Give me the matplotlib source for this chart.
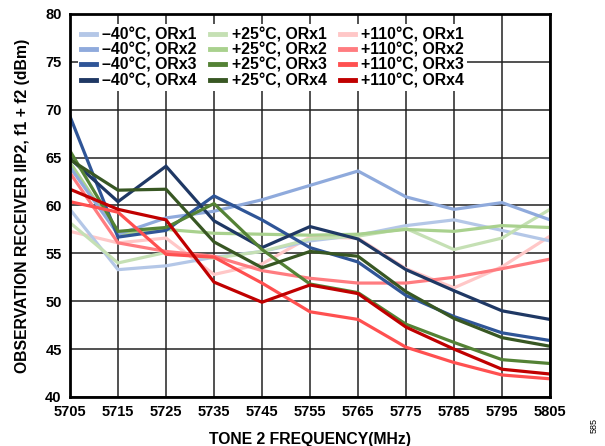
import numpy as np
import matplotlib
matplotlib.use('Agg')
import matplotlib.pyplot as plt

plt.rcParams['font.family'] = ['Liberation Sans', 'DejaVu Sans']
plt.rcParams['font.weight'] = 'bold'

freq = [5705, 5715, 5725, 5735, 5745, 5755, 5765, 5775, 5785, 5795, 5805]

# -40 C
m40_orx1 = [59.6, 53.3, 53.7, 54.6, 55.2, 56.3, 56.9, 57.9, 58.5, 57.4, 56.3]
m40_orx2 = [64.0, 57.0, 58.7, 59.4, 60.6, 62.1, 63.6, 60.9, 59.6, 60.3, 58.5]
m40_orx3 = [69.3, 56.7, 57.4, 61.0, 58.5, 55.6, 54.1, 50.6, 48.4, 46.7, 45.9]
m40_orx4 = [64.9, 60.4, 64.1, 58.4, 55.6, 57.8, 56.5, 53.3, 51.1, 49.0, 48.1]
# +25 C
p25_orx1 = [58.2, 54.0, 55.1, 54.5, 55.2, 56.5, 56.8, 57.6, 55.4, 56.6, 59.6]
p25_orx2 = [64.5, 57.0, 57.5, 57.1, 57.0, 56.9, 57.0, 57.5, 57.3, 57.9, 57.7]
p25_orx3 = [65.7, 57.3, 57.7, 60.2, 55.4, 51.8, 50.9, 47.6, 45.7, 43.9, 43.5]
p25_orx4 = [64.8, 61.6, 61.7, 56.2, 53.5, 55.2, 54.7, 51.0, 48.2, 46.2, 45.3]
# +110 C
p110_orx1 = [57.3, 56.1, 56.6, 52.8, 53.9, 56.7, 56.6, 53.4, 51.4, 53.6, 56.8]
p110_orx2 = [63.4, 56.1, 55.2, 54.7, 53.2, 52.4, 51.9, 51.9, 52.5, 53.4, 54.4]
p110_orx3 = [60.4, 59.3, 54.9, 54.6, 51.9, 48.9, 48.1, 45.2, 43.6, 42.3, 41.9]
p110_orx4 = [61.7, 59.6, 58.5, 52.0, 49.9, 51.7, 50.8, 47.3, 45.0, 42.9, 42.4]

series = [
    ('\u201340\u00b0C, ORx1', m40_orx1, '#b4c7e7'),
    ('\u201340\u00b0C, ORx2', m40_orx2, '#8faadc'),
    ('\u201340\u00b0C, ORx3', m40_orx3, '#2f5597'),
    ('\u201340\u00b0C, ORx4', m40_orx4, '#1f3864'),
    ('+25\u00b0C, ORx1', p25_orx1, '#c5e0b4'),
    ('+25\u00b0C, ORx2', p25_orx2, '#a9d18e'),
    ('+25\u00b0C, ORx3', p25_orx3, '#548235'),
    ('+25\u00b0C, ORx4', p25_orx4, '#385723'),
    ('+110\u00b0C, ORx1', p110_orx1, '#ffc7c7'),
    ('+110\u00b0C, ORx2', p110_orx2, '#ff7c80'),
    ('+110\u00b0C, ORx3', p110_orx3, '#ff5050'),
    ('+110\u00b0C, ORx4', p110_orx4, '#c00000'),
]

fig = plt.figure(figsize=(6.05, 4.46), dpi=100)
ax = fig.add_axes([70/605, 1 - 397/446, 480/605, 383/446])

# pale +110 ORx1 sits underneath the others
order = [8, 0, 4, 5, 1, 9, 2, 3, 6, 7, 10, 11]
handles = {}
for i in order:
    lab, vals, col = series[i]
    h, = ax.plot(freq, vals, color=col, lw=2.3, label=lab, solid_joinstyle='miter')
    handles[i] = h

ax.set_xlim(5705, 5805)
ax.set_ylim(40, 80)
ax.set_xticks(np.arange(5705, 5806, 10))
ax.set_yticks(np.arange(40, 81, 5))
ax.grid(True, color='#222222', lw=1.1)
ax.set_axisbelow(True)
for s in ax.spines.values():
    s.set_linewidth(2)
    s.set_color('black')
ax.tick_params(labelsize=10.5, length=0, pad=6)

ax.set_xlabel('TONE 2 FREQUENCY(MHz)', fontsize=11.3, fontweight='bold', labelpad=9)
ax.set_ylabel('OBSERVATION RECEIVER IIP2, f1 + f2 (dBm)', fontsize=11.3,
              fontweight='bold', labelpad=11)

leg = ax.legend([handles[i] for i in range(12)], [s[0] for s in series],
                ncol=3, loc='upper left', bbox_to_anchor=(0.016, 0.974),
                fontsize=11.4, frameon=True,
                handlelength=0.95, handletextpad=0.4, columnspacing=0.85,
                labelspacing=0.02, borderaxespad=0, borderpad=0.2,
                fancybox=False)
leg.get_frame().set_edgecolor('none')
leg.get_frame().set_facecolor('white')
leg.get_frame().set_alpha(1)
for lh in leg.get_lines():
    lh.set_linewidth(3.5)

fig.text(0.982, 0.045, '585', rotation=90, fontsize=6.5, fontweight='normal',
         ha='center', va='center')

fig.savefig('out.png', dpi=100)
